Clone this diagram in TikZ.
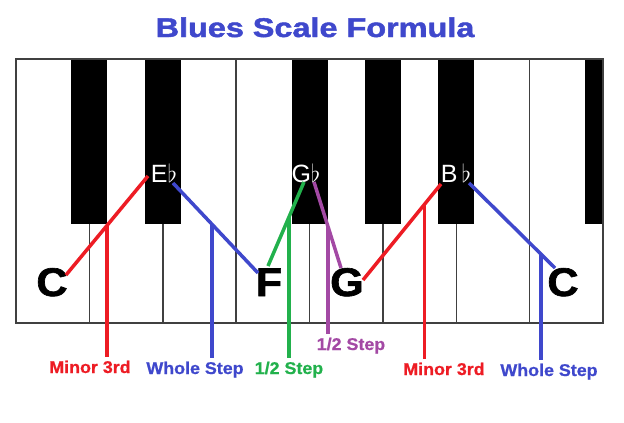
\documentclass[tikz,border=0pt]{standalone}
\usepackage{fontspec}
\usepackage{graphicx}
\setmainfont{Liberation Sans}
\newfontfamily\heavyfont[BoldFeatures={FakeBold=1.6}]{Liberation Sans}
\newfontfamily\mediumfont[BoldFeatures={FakeBold=0.8}]{Liberation Sans}
\definecolor{paintred}{HTML}{ED1C24}
\definecolor{paintblue}{HTML}{3F48CC}
\definecolor{paintgreen}{HTML}{22B14C}
\definecolor{paintpurple}{HTML}{A349A4}
\newcommand{\wide}[2]{\scalebox{#1}[1]{#2}}
\tikzset{
	keyline/.style={draw=black!75,line width=1.5pt},
	note/.style={font=\heavyfont\bfseries\fontsize{40}{40}\selectfont,inner sep=0pt,anchor=base},
	flatnote/.style={text=white,font=\fontsize{25}{25}\selectfont,inner sep=0pt,anchor=base},
	steplabel/.style={font=\mediumfont\bfseries\fontsize{17}{17}\selectfont,inner sep=3pt,anchor=base},
	link/.style={line width=3.5pt},
}
\begin{document}
\begin{tikzpicture}[x=1pt,y=-1pt]
	\def\L{16} % left edge of keyboard
	\def\W{73.375} % width of white key
	\def\T{59}
	\def\B{323}
	\def\H{224} % bottom of black keys
	\def\bw{18} % half width of black key
	
	\useasboundingbox (0,0) rectangle (624,423);
	\node[anchor=base,text=paintblue,font=\heavyfont\bfseries\fontsize{27}{27}\selectfont] (title) at (315,37) {\wide{1.2}{Blues Scale Formula}};
	
	\foreach \k in {0,...,7} {\draw[keyline,fill=white] (\L+\k*\W,\T) rectangle (\L+\k*\W+\W,\B);}
	\foreach \k in {1,2,4,5,6} {\fill[black] (\L+\k*\W-\bw,\T) rectangle (\L+\k*\W+\bw,\H);}
	\fill[black] (\L+8*\W-\bw,\T) rectangle (\L+8*\W,\H);
	\draw[keyline] (\L,\T) rectangle (\L+8*\W,\B);
	
	\node[note] (c1) at (52,296) {\wide{1.08}{C}};
	\node[flatnote] (eb) at (164,182) {E$\flat$};
	\node[note] (f) at (269,296) {\wide{1.08}{F}};
	\node[flatnote] (gb) at (306,182) {G$\flat$};
	\node[note] (g) at (347,296) {\wide{1.08}{G}};
	\node[flatnote] (bb) at (456,182) {B\,$\flat$};
	\node[note] (c2) at (563,296) {\wide{1.08}{C}};
	
	\node[steplabel,text=paintred] (min1) at (90,373) {\wide{1.05}{Minor 3rd}};
	\node[steplabel,text=paintblue] (whole1) at (195,374) {\wide{1.05}{Whole Step}};
	\node[steplabel,text=paintgreen] (half1) at (289,374) {\wide{1.05}{1/2 Step}};
	\node[steplabel,text=paintpurple] (half2) at (351,350) {\wide{1.05}{1/2 Step}};
	\node[steplabel,text=paintred] (min2) at (444,375) {\wide{1.05}{Minor 3rd}};
	\node[steplabel,text=paintblue] (whole2) at (549,376) {\wide{1.05}{Whole Step}};
	
	\draw[link,paintred] ([shift={(14,-21)}]c1.base) -- coordinate[pos=0.5] (m1) ([shift={(-16,-6)}]eb.base);
	\draw[link,paintred] (m1) -- (m1 |- min1.north);
	\draw[link,paintblue] ([shift={(9,1)}]eb.base) -- coordinate[pos=0.46] (m2) ([shift={(-11,-23)}]f.base);
	\draw[link,paintblue] (m2) -- (m2 |- whole1.north);
	\draw[link,paintgreen] ([shift={(-1,-30)}]f.base) -- coordinate[pos=0.58] (m3) ([shift={(-2,0)}]gb.base);
	\draw[link,paintgreen] (m3) -- (m3 |- half1.north);
	\draw[link,paintpurple] ([shift={(8,0)}]gb.base) -- coordinate[pos=0.52] (m4) ([shift={(-6,-28)}]g.base);
	\draw[link,paintpurple] (m4) -- (m4 |- half2.north);
	\draw[link,paintred] ([shift={(16,-16)}]g.base) -- coordinate[pos=0.79] (m5) ([shift={(-15,2)}]bb.base);
	\draw[link,paintred] (m5) -- (m5 |- min2.north);
	\draw[link,paintblue] ([shift={(13,1)}]bb.base) -- coordinate[pos=0.84] (m6) ([shift={(-8,-28)}]c2.base);
	\draw[link,paintblue] (m6) -- (m6 |- whole2.north);
\end{tikzpicture}
\end{document}
